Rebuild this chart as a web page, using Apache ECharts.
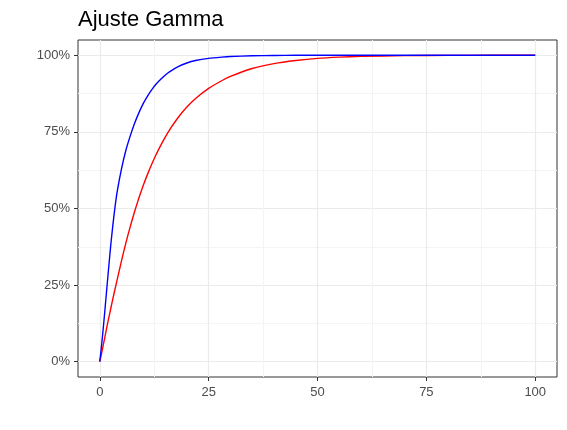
<!DOCTYPE html>
<html>
<head>
<meta charset="utf-8">
<script src="https://cdn.jsdelivr.net/npm/echarts@6/dist/echarts.min.js"></script>
<style>html,body{margin:0;padding:0;background:#fff}#c{width:567px;height:430px}</style>
</head>
<body>
<div id="c"></div>
<script>
const xValues = [0,0.5,1,1.5,2,2.5,3,3.5,4,5,6,7,8,9,10,11,12,13,14,15,16,18,20,22,25,28,30,35,40,45,50,55,60,70,80,90,100];
const blueValues = [0,0.065,0.14,0.22,0.30,0.377,0.445,0.505,0.555,0.63,0.69,0.737,0.778,0.813,0.843,0.868,0.889,0.907,0.922,0.935,0.946,0.963,0.975,0.983,0.990,0.994,0.996,0.9985,0.9995,1,1,1,1,1,1,1,1];
const redValues = [0,0.033,0.068,0.104,0.139,0.172,0.205,0.237,0.268,0.33,0.388,0.441,0.49,0.535,0.576,0.613,0.647,0.678,0.706,0.732,0.756,0.797,0.831,0.859,0.892,0.917,0.931,0.957,0.973,0.983,0.990,0.994,0.9965,0.999,0.9997,1,1];
const xTicks = [0,25,50,75,100];
const xMinor = [12.5,37.5,62.5,87.5];
const yTicks = [0,0.25,0.5,0.75,1];
const yMinor = [0.125,0.375,0.625,0.875];
const xRange = [-5,105];
const yRange = [-0.05,1.05];

const font = '"Liberation Sans", Arial, sans-serif';
const chart = echarts.init(document.getElementById('c'));
const pair = (xs, ys) => xs.map((x, i) => [x, ys[i]]);
const minorAxis = (vals, pos) => ({
  type: 'value', min: (pos === 'top' ? xRange : yRange)[0], max: (pos === 'top' ? xRange : yRange)[1], position: pos,
  axisLine: {show: false, onZero: false}, axisLabel: {show: false},
  axisTick: {show: false, customValues: vals},
  splitLine: {show: true, lineStyle: {color: '#f4f4f4', width: 1}}
});
chart.setOption({
  animation: false,
  title: {text: 'Ajuste Gamma', left: 78, top: 9, padding: 0,
    textStyle: {fontFamily: font, fontSize: 22, fontWeight: 'normal', color: '#000'}},
  grid: {left: 78, right: 10, top: 40, bottom: 53, show: true, borderColor: '#333', borderWidth: 1, backgroundColor: 'transparent'},
  xAxis: [{
    type: 'value', min: xRange[0], max: xRange[1], position: 'bottom',
    axisLine: {show: false, onZero: false},
    splitLine: {show: true, lineStyle: {color: '#ebebeb', width: 1.2}},
    axisTick: {show: true, length: 4, lineStyle: {color: '#333'}, customValues: xTicks},
    axisLabel: {customValues: xTicks, color: '#4d4d4d', fontFamily: font, fontSize: 13, margin: 9}
  }, minorAxis(xMinor, 'top')],
  yAxis: [{
    type: 'value', min: yRange[0], max: yRange[1], position: 'left',
    axisLine: {show: false, onZero: false},
    splitLine: {show: true, lineStyle: {color: '#ebebeb', width: 1.2}},
    axisTick: {show: true, length: 4, lineStyle: {color: '#333'}, customValues: yTicks},
    axisLabel: {customValues: yTicks, color: '#4d4d4d', fontFamily: font, fontSize: 13, margin: 8,
      formatter: v => Math.round(v * 100) + '%'}
  }, minorAxis(yMinor, 'right')],
  series: [
    {type: 'line', data: pair(xValues, redValues), smooth: 0.2, showSymbol: false, z: 3,
      lineStyle: {color: '#ff0000', width: 1.4}},
    {type: 'line', data: pair(xValues, blueValues), smooth: 0.2, showSymbol: false, z: 4,
      lineStyle: {color: '#0000ff', width: 1.4}}
  ]
});
</script>
</body>
</html>
